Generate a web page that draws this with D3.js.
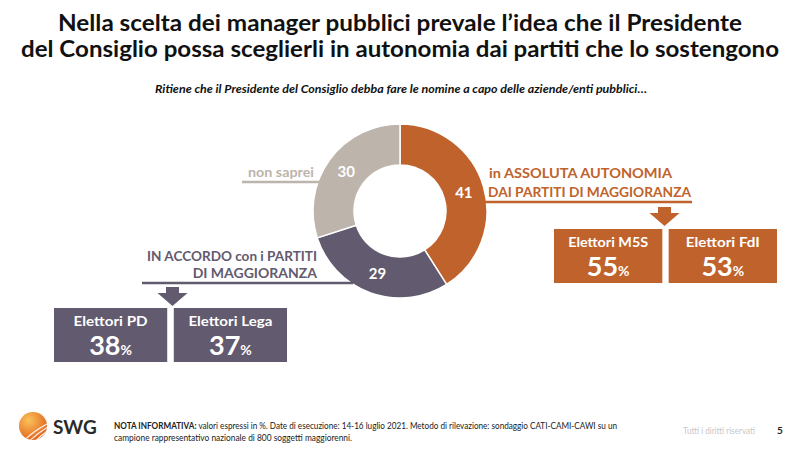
<!DOCTYPE html>
<html><head><meta charset="utf-8">
<script src="https://cdn.jsdelivr.net/npm/d3@7"></script>
<style>body{margin:0;background:#fff}svg{display:block;font-family:Lato,"Open Sans",sans-serif}</style>
</head><body><svg id="c" width="800" height="449"></svg>
<script>
// ---- data ----
const titleLines = ["Nella scelta dei manager pubblici prevale l’idea che il Presidente",
                    "del Consiglio possa sceglierli in autonomia dai partiti che lo sostengono"];
const subtitle = "Ritiene che il Presidente del Consiglio debba fare le nomine a capo delle aziende/enti pubblici…";
const categories = ["in ASSOLUTA AUTONOMIA|DAI PARTITI DI MAGGIORANZA", "IN ACCORDO con i PARTITI|DI MAGGIORANZA", "non saprei"];
const values = [41, 29, 30];
const colors = ["#c0622b", "#625a6e", "#bdb4ac"];
const autonomyGroups = ["Elettori M5S", "Elettori FdI"];
const autonomyValues = [55, 53];
const accordGroups = ["Elettori PD", "Elettori Lega"];
const accordValues = [38, 37];
const noteBold = "NOTA INFORMATIVA:";
const noteLines = [" valori espressi in %. Date di esecuzione: 14-16 luglio 2021. Metodo di rilevazione: sondaggio CATI-CAMI-CAWI su un",
                   "campione rappresentativo nazionale di 800 soggetti maggiorenni."];
const rights = "Tutti i diritti riservati";
const pageNum = "5";

const svg = d3.select("#c");
function fit(sel, w){ sel.each(function(){ const l=this.getComputedTextLength(); if(Math.abs(l-w)>1){ d3.select(this).attr("textLength",w).attr("lengthAdjust","spacingAndGlyphs"); } }); return sel; }

// title
const tW = [684, 758], tY = [31, 57];
titleLines.forEach((t,i)=>{
  fit(svg.append("text").attr("x",400).attr("y",tY[i]).attr("text-anchor","middle")
    .attr("font-size",23.5).attr("font-weight","bold").attr("fill","#111").text(t), tW[i]);
});
fit(svg.append("text").attr("x",155).attr("y",93).attr("font-size",11).attr("font-weight","bold")
  .attr("font-style","italic").attr("fill","#111").text(subtitle), 492);

// donut
const cx=400, cy=211, R=87, r0=46;
const pie = d3.pie().sort(null).value(d=>d)(values);
const arc = d3.arc().innerRadius(r0).outerRadius(R);
const labArc = d3.arc().innerRadius((R+r0)/2).outerRadius((R+r0)/2);
const g = svg.append("g").attr("transform",`translate(${cx},${cy})`);
g.selectAll("path").data(pie).join("path").attr("d",arc)
  .attr("fill",(d,i)=>colors[i]).attr("stroke","#fff").attr("stroke-width",1.5);
g.selectAll("text.v").data(pie).join("text").attr("class","v")
  .attr("transform",d=>`translate(${labArc.centroid(d)})`).attr("text-anchor","middle").attr("dy","0.36em")
  .attr("font-size",15).attr("font-weight","bold").attr("fill","#fff").text(d=>d.data);

// leader lines helper: x at outer edge for given y
function edgeX(y, side){ const dy=y-cy; return cx + side*Math.sqrt(R*R-dy*dy); }

// orange label
const oL = categories[0].split("|");
fit(svg.append("text").attr("x",489).attr("y",178).attr("font-size",14).attr("font-weight","bold").attr("fill",colors[0]).text(oL[0]),183);
fit(svg.append("text").attr("x",488).attr("y",197).attr("font-size",14).attr("font-weight","bold").attr("fill",colors[0]).text(oL[1]),203);
svg.append("line").attr("x1",edgeX(202,1)-2).attr("x2",692).attr("y1",202).attr("y2",202).attr("stroke",colors[0]).attr("stroke-width",2.5);
// purple label
const pL = categories[1].split("|");
fit(svg.append("text").attr("x",317).attr("y",261).attr("text-anchor","end").attr("font-size",14).attr("font-weight","bold").attr("fill",colors[1]).text(pL[0]),170);
fit(svg.append("text").attr("x",317).attr("y",278).attr("text-anchor","end").attr("font-size",14).attr("font-weight","bold").attr("fill",colors[1]).text(pL[1]),124);
svg.append("line").attr("x1",142).attr("x2",edgeX(283,-1)+2).attr("y1",283).attr("y2",283).attr("stroke",colors[1]).attr("stroke-width",2.5);
// grey label
fit(svg.append("text").attr("x",314).attr("y",177).attr("text-anchor","end").attr("font-size",14).attr("font-weight","bold").attr("fill",colors[2]).text(categories[2]),66);
svg.append("line").attr("x1",242).attr("x2",edgeX(182,-1)+2).attr("y1",182).attr("y2",182).attr("stroke",colors[2]).attr("stroke-width",2.5);

// arrows
function arrow(x, y, col){
  const p = d3.path();
  p.moveTo(x-6.5,y); p.lineTo(x+6.5,y); p.lineTo(x+6.5,y+6); p.lineTo(x+15,y+6);
  p.lineTo(x,y+19); p.lineTo(x-15,y+6); p.lineTo(x-6.5,y+6); p.closePath();
  svg.append("path").attr("d",p.toString()).attr("fill",col);
}
arrow(664.5, 207, colors[0]);
arrow(172.5, 287, colors[1]);

// boxes
function boxes(groups, vals, x0, x1, y, h, col, wlab){
  const xs = d3.scaleBand().domain(groups).range([x0,x1]).paddingInner(0.055);
  const bg = svg.append("g");
  groups.forEach((gname,i)=>{
    const bx = xs(gname), bw = xs.bandwidth();
    bg.append("rect").attr("x",bx).attr("y",y).attr("width",bw).attr("height",h).attr("fill",col);
    fit(bg.append("text").attr("x",bx+bw/2).attr("y",y+18).attr("text-anchor","middle").attr("font-size",14)
      .attr("font-weight","bold").attr("fill","#fff").text(gname), wlab[i]);
    const t = bg.append("text").attr("x",bx+bw/2).attr("y",y+47).attr("text-anchor","middle")
      .attr("font-weight","bold").attr("fill","#fff");
    t.append("tspan").attr("font-size",27).text(vals[i]);
    t.append("tspan").attr("font-size",14).text("%");
  });
}
boxes(autonomyGroups, autonomyValues, 554, 777, 229, 54, colors[0], [80, 74]);
boxes(accordGroups, accordValues, 54, 287, 308, 54, colors[1], [74, 84]);

// footer logo
const defs = svg.append("defs");
const rg = defs.append("radialGradient").attr("id","lg").attr("cx","35%").attr("cy","30%").attr("r","75%");
rg.append("stop").attr("offset","0%").attr("stop-color","#fbc25a");
rg.append("stop").attr("offset","100%").attr("stop-color","#e0611c");
defs.append("clipPath").attr("id","lc").append("circle").attr("cx",33).attr("cy",426).attr("r",14);
svg.append("circle").attr("cx",33).attr("cy",426).attr("r",14).attr("fill","url(#lg)");
const lgG = svg.append("g").attr("clip-path","url(#lc)");
[0,6,12,18].forEach(o=>{
  lgG.append("path").attr("d",`M${14+o},${452} Q${30+o},${430} ${60+o},${418}`)
    .attr("fill","none").attr("stroke","#fff").attr("stroke-width",1.3).attr("opacity",0.85);
});
svg.append("text").attr("x",53).attr("y",434).attr("font-size",19).attr("font-weight","bold").attr("fill","#2a2a2a").text("SWG");

const n1 = svg.append("text").attr("x",114).attr("y",429).attr("font-size",9).attr("fill","#222");
n1.append("tspan").attr("font-weight","bold").text(noteBold);
n1.append("tspan").text(noteLines[0]);
fit(n1, 503);
fit(svg.append("text").attr("x",114).attr("y",441).attr("font-size",9).attr("fill","#222").text(noteLines[1]), 238);
fit(svg.append("text").attr("x",683).attr("y",434).attr("font-size",9).attr("fill","#c8c8c8").text(rights), 72);
svg.append("text").attr("x",777).attr("y",434).attr("font-size",10).attr("font-weight","bold").attr("fill","#222").text(pageNum);
</script></body></html>
